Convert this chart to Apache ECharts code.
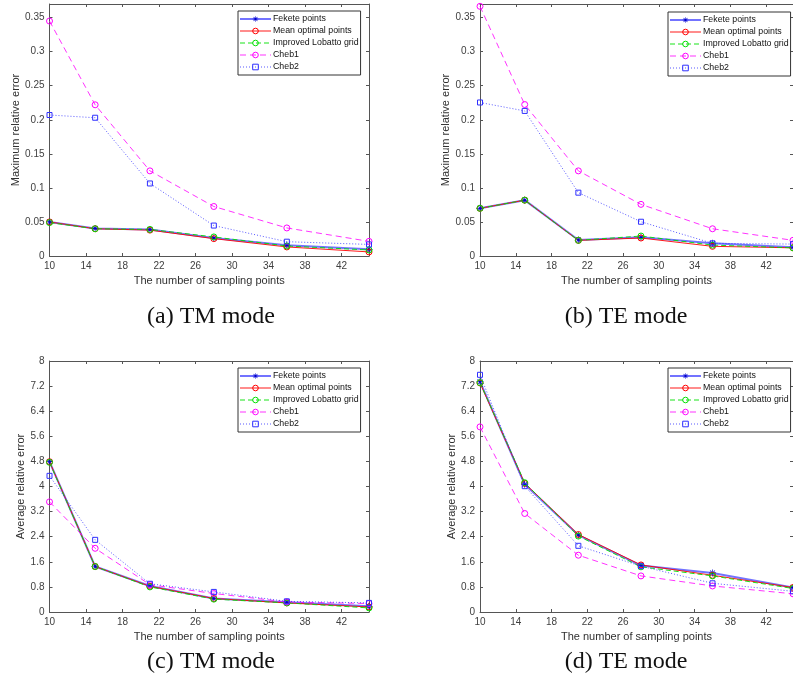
<!DOCTYPE html>
<html>
<head>
<meta charset="utf-8">
<script src="https://cdn.jsdelivr.net/npm/echarts@6/dist/echarts.min.js"></script>
<style>
html, body { margin: 0; padding: 0; background: #fff; }
#chart { width: 793px; height: 690px; }
</style>
</head>
<body>
<div id="chart"></div>
<script>
const xPoints = [10, 15, 21, 28, 36, 45]
const seriesNames = ['Fekete points', 'Mean optimal points', 'Improved Lobatto grid', 'Cheb1', 'Cheb2']

// (a) TM mode, maximum relative error
const tmMaxFekete = [0.050, 0.0405, 0.039, 0.0265, 0.0157, 0.0098]
const tmMaxMean = [0.050, 0.040, 0.038, 0.0255, 0.0133, 0.006]
const tmMaxLobatto = [0.049, 0.040, 0.039, 0.028, 0.0147, 0.0088]
const tmMaxCheb1 = [0.345, 0.222, 0.125, 0.0727, 0.0412, 0.0215]
const tmMaxCheb2 = [0.207, 0.203, 0.1065, 0.0447, 0.021, 0.017]

// (b) TE mode, maximum relative error
const teMaxFekete = [0.070, 0.082, 0.0235, 0.0274, 0.0186, 0.013]
const teMaxMean = [0.070, 0.082, 0.023, 0.0264, 0.0142, 0.012]
const teMaxLobatto = [0.070, 0.082, 0.023, 0.0293, 0.016, 0.012]
const teMaxCheb1 = [0.3666, 0.2224, 0.125, 0.0758, 0.040, 0.023]
const teMaxCheb2 = [0.2254, 0.213, 0.093, 0.0503, 0.0186, 0.0175]

// (c) TM mode, average relative error
const tmAvgFekete = [4.79, 1.45, 0.83, 0.43, 0.31, 0.18]
const tmAvgMean = [4.79, 1.45, 0.82, 0.43, 0.29, 0.16]
const tmAvgLobatto = [4.77, 1.45, 0.80, 0.41, 0.29, 0.13]
const tmAvgCheb1 = [3.51, 2.03, 0.87, 0.59, 0.32, 0.27]
const tmAvgCheb2 = [4.34, 2.30, 0.90, 0.64, 0.34, 0.29]

// (d) TE mode, average relative error
const teAvgFekete = [7.34, 4.07, 2.45, 1.48, 1.245, 0.78]
const teAvgMean = [7.30, 4.10, 2.47, 1.50, 1.17, 0.78]
const teAvgLobatto = [7.31, 4.12, 2.42, 1.44, 1.15, 0.75]
const teAvgCheb1 = [5.90, 3.14, 1.81, 1.15, 0.83, 0.58]
const teAvgCheb2 = [7.56, 4.01, 2.11, 1.46, 0.915, 0.66]

const xName = 'The number of sampling points'
const captions = ['(a) TM mode', '(b) TE mode', '(c) TM mode', '(d) TE mode']

// matlab style '*' marker
const asterisk = 'path://M-0.5,-5h1v10h-1Z M-5,-0.5h10v1h-10Z ' +
  'M-3.15,-3.85L3.85,3.15L3.15,3.85L-3.85,-3.15Z M3.15,-3.85L3.85,-3.15L-3.15,3.85L-3.85,3.15Z'

const styles = [
  { color: '#0000ff', width: 2, type: 'solid', symbol: asterisk, size: 7, hollow: false, opacity: 0.55 },
  { color: '#ff0000', width: 1, type: 'solid', symbol: 'circle', size: 6, hollow: true, opacity: 0.9 },
  { color: '#00e000', width: 1, type: [5, 3], symbol: 'circle', size: 6, hollow: true, opacity: 0.9 },
  { color: '#ff00ff', width: 1, type: [6, 4], symbol: 'circle', size: 6, hollow: true, opacity: 0.8 },
  { color: '#3030ff', width: 1, type: [1, 2], symbol: 'rect', size: 5, hollow: true, opacity: 0.8 }
]

const panels = [
  { left: 49.5, top: 4, height: 252, yMax: 0.37, yStep: 0.05, yName: 'Maximum relative error', gap: 26,
    legend: [238, 11], caption: [211, 317],
    data: [tmMaxFekete, tmMaxMean, tmMaxLobatto, tmMaxCheb1, tmMaxCheb2] },
  { left: 480, top: 4, height: 252, yMax: 0.37, yStep: 0.05, yName: 'Maximum relative error', gap: 27,
    legend: [668, 12], caption: [626, 317],
    data: [teMaxFekete, teMaxMean, teMaxLobatto, teMaxCheb1, teMaxCheb2] },
  { left: 49.5, top: 361, height: 251, yMax: 8, yStep: 0.8, yName: 'Average relative error', gap: 21,
    legend: [238, 368], caption: [211, 662],
    data: [tmAvgFekete, tmAvgMean, tmAvgLobatto, tmAvgCheb1, tmAvgCheb2] },
  { left: 480, top: 361, height: 251, yMax: 8, yStep: 0.8, yName: 'Average relative error', gap: 22,
    legend: [668, 368], caption: [626, 662],
    data: [teAvgFekete, teAvgMean, teAvgLobatto, teAvgCheb1, teAvgCheb2] }
]

const axisColor = '#555'
const labelStyle = { fontSize: 10, color: '#404040', fontFamily: 'Liberation Sans', margin: 5 }
const nameStyle = { fontSize: 11, color: '#303030', fontFamily: 'Liberation Sans' }

const markerStyle = (s) => s.hollow
  ? { color: 'rgba(0,0,0,0)', borderColor: s.color, borderWidth: 1 }
  : { color: '#0000cc', borderWidth: 0 }

const baseAxis = (gridIndex, position, showLabel) => ({
  gridIndex,
  position,
  type: 'value',
  axisLine: { show: true, onZero: false, lineStyle: { color: axisColor, width: 1 } },
  axisTick: { show: true, inside: true, length: 3, lineStyle: { color: axisColor } },
  splitLine: { show: false },
  axisLabel: { show: showLabel, ...labelStyle }
})

const legendData = seriesNames.map((name, k) => ({
  name,
  itemStyle: markerStyle(styles[k]),
  lineStyle: { color: styles[k].color, width: styles[k].width, type: styles[k].type, opacity: styles[k].opacity }
}))

const grid = []
const xAxis = []
const yAxis = []
const legend = []
const series = []
const graphic = []

panels.forEach((p, i) => {
  grid.push({ left: p.left, top: p.top, width: 319.5, height: p.height })

  const xMain = baseAxis(i, 'bottom', true)
  Object.assign(xMain, { min: 10, max: 45, interval: 4, name: xName, nameLocation: 'middle', nameGap: 19, nameTextStyle: nameStyle })
  xMain.axisLabel.showMaxLabel = false
  const xTop = baseAxis(i, 'top', false)
  Object.assign(xTop, { min: 10, max: 45, interval: 4 })
  xAxis.push(xMain, xTop)

  const yMain = baseAxis(i, 'left', true)
  Object.assign(yMain, { min: 0, max: p.yMax, interval: p.yStep, name: p.yName, nameLocation: 'middle', nameGap: p.gap, nameTextStyle: nameStyle })
  yMain.axisLabel.showMaxLabel = p.yMax === 8
  const yRight = baseAxis(i, 'right', false)
  Object.assign(yRight, { min: 0, max: p.yMax, interval: p.yStep })
  yAxis.push(yMain, yRight)

  legend.push({
    left: p.legend[0],
    top: p.legend[1],
    orient: 'vertical',
    data: legendData,
    itemWidth: 31,
    itemHeight: 7,
    itemGap: 0,
    padding: [2, 2, 2, 1],
    backgroundColor: '#fff',
    borderColor: '#333',
    borderWidth: 1,
    borderRadius: 0,
    selectedMode: false,
    textStyle: { fontSize: 8.8, lineHeight: 12, color: '#111', fontFamily: 'Liberation Sans', padding: [0, 0, 0, -3] }
  })

  seriesNames.forEach((name, k) => {
    const s = styles[k]
    series.push({
      type: 'line',
      name,
      xAxisIndex: 2 * i,
      yAxisIndex: 2 * i,
      data: xPoints.map((x, j) => [x, p.data[k][j]]),
      symbol: s.symbol,
      symbolSize: s.size,
      showAllSymbol: true,
      lineStyle: { color: s.color, width: s.width, type: s.type, opacity: s.opacity },
      itemStyle: markerStyle(s),
      emphasis: { disabled: true },
      animation: false
    })
  })

  graphic.push({
    type: 'text',
    x: p.caption[0],
    y: p.caption[1],
    style: {
      text: captions[i],
      font: '24px "Liberation Serif"',
      textAlign: 'center',
      textVerticalAlign: 'middle',
      fill: '#111'
    }
  })
})

const chart = echarts.init(document.getElementById('chart'))
chart.setOption({
  backgroundColor: '#fff',
  animation: false,
  grid,
  xAxis,
  yAxis,
  legend,
  series,
  graphic
})
</script>
</body>
</html>
